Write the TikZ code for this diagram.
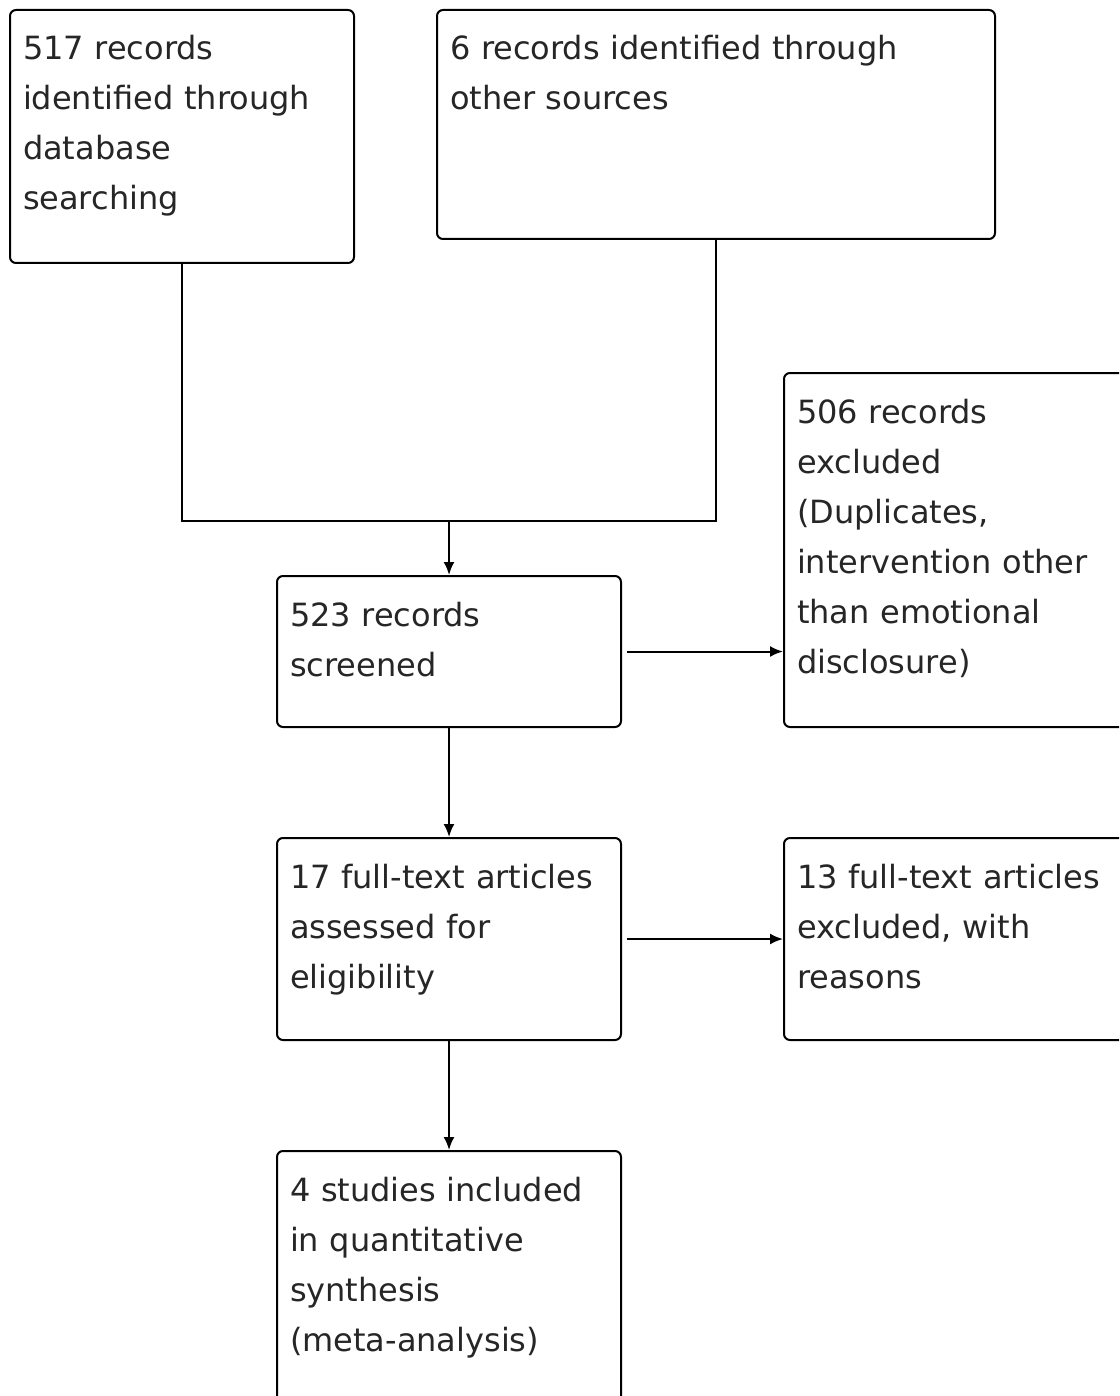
\documentclass[tikz,border=0pt]{standalone}
\usepackage{fontspec}
\setmainfont{DejaVu Sans}
\usetikzlibrary{arrows.meta}

\tikzset{
  stage/.style={draw, line width=2pt, rounded corners=6pt, anchor=north west,
    text width=318pt, inner xsep=13pt, inner ysep=26pt, align=left,
    text height=24pt, font=\fontsize{32}{50}\selectfont, text=black!85},
  flow/.style={line width=2pt}
}

\begin{document}
\begin{tikzpicture}[x=1pt, y=-1pt, >={Latex[length=13pt, width=11pt]}]
  \useasboundingbox (0,0) rectangle (1119,1396);
  \fill [white] (0,0) rectangle (1119,1396);
  \clip (0,0) rectangle (1119,1396);
  % sources
  \node [stage, text depth=177pt] (search) at (9,9) {517 records\\identified through\\database\\searching};
  \node [stage, text width=532pt, text depth=153pt] (other) at (436,9) {6 records identified through\\other sources};
  % screening
  \node [stage, text depth=75pt] (screened) at (276,575) {523 records\\screened};
  \node [stage, text depth=278pt] (excluded) at (783,372) {506 records\\excluded\\(Duplicates,\\intervention other\\than emotional\\disclosure)};
  % eligibility
  \node [stage, text depth=126pt] (fulltext) at (276,837) {17 full-text articles\\assessed for\\eligibility};
  \node [stage, text depth=126pt] (fulltextout) at (783,837) {13 full-text articles\\excluded, with\\reasons};
  % included
  \node [stage, text depth=220pt] (included) at (276,1150) {4 studies included\\in quantitative\\synthesis\\(meta-analysis)};

  \coordinate (merge) at (screened.north |- 0,521);
  \draw [flow] (search.south) |- (merge) -| (other.south);
  \draw [flow, ->] (merge) -- (screened.north);
  \draw [flow, ->, shorten <=5pt] (screened.east) -- (screened.east -| excluded.west);
  \draw [flow, ->] (screened.south) -- (fulltext.north);
  \draw [flow, ->, shorten <=5pt] (fulltext.east) -- (fulltext.east -| fulltextout.west);
  \draw [flow, ->] (fulltext.south) -- (included.north);
\end{tikzpicture}
\end{document}
